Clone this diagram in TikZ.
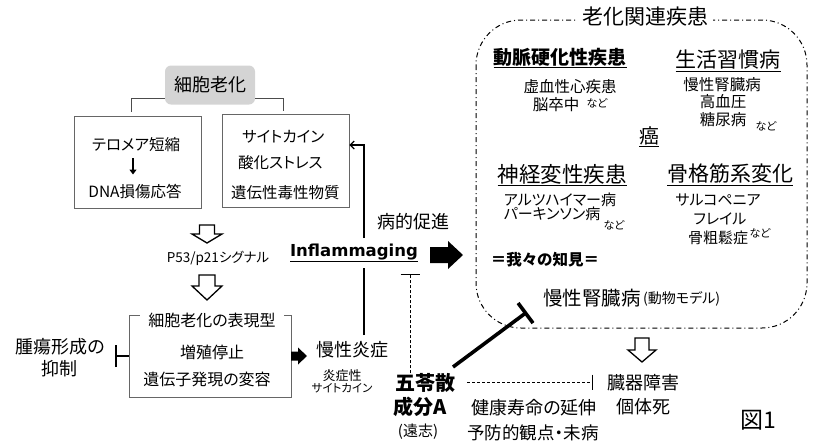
\documentclass[tikz,border=0pt]{standalone}
\usepackage{fontspec}
\setmainfont{Noto Sans CJK JP}[RawFeature=+palt]
\newfontfamily\infont{DejaVu Sans}
\usetikzlibrary{arrows.meta}
\newcommand\fsz[1]{\fontsize{#1}{#1}\selectfont}
\newcommand\harrow[6]{% x, top, headstart, tip, shafthalf, headhalf
  \draw[line width=1.3pt, fill=white, line join=miter]
    (#1-#5,#2) -- (#1+#5,#2) -- (#1+#5,#3) -- (#1+#6,#3) -- (#1,#4)
    -- (#1-#6,#3) -- (#1-#5,#3) -- cycle;}
\newcommand\barrow[6]{% x1, xhead, xtip, y, shafthalf, headhalf
  \fill (#1,#4-#5) -- (#2,#4-#5) -- (#2,#4-#6) -- (#3,#4) -- (#2,#4+#6)
    -- (#2,#4+#5) -- (#1,#4+#5) -- cycle;}
\begin{document}
\begin{tikzpicture}[x=1pt,y=-1pt,
  every node/.style={inner sep=0pt, text=black},
  box/.style={draw=black!60, line width=0.8pt},
  conn/.style={line width=0.9pt, draw=black!70},
  dashdot/.style={line width=1pt, dash pattern=on 5pt off 3pt on 1pt off 3pt}]
\useasboundingbox (0,0) rectangle (815,445);

% --- left part ---
\node[fill=black!17, rounded corners=6pt, minimum width=90pt, minimum height=39pt] (saibou) at (210,85) {\fsz{18}細胞老化};
\node[box, minimum width=127pt, minimum height=92pt] (lbox) at (137.5,162) {};
\node[box, minimum width=127pt, minimum height=93pt] (rbox) at (285.5,160.5) {};
\draw[conn, shorten >=4pt] ([yshift=-13pt]saibou.west) -| ([xshift=-6pt]lbox.north);
\draw[conn, shorten >=3pt] ([yshift=-13pt]saibou.east) -| ([xshift=-2pt]rbox.north);

\node (telo) at (136,145) {\fsz{15.5}テロメア短縮};
\node (dna) at (135,192) {\fsz{15.5}DNA損傷応答};
\draw[line width=1.6pt, -{Triangle[length=5pt,width=7pt]}, shorten <=6pt, shorten >=10pt] (telo.south -| 133,0) -- (dna.north -| 133,0);

\node[anchor=west] (cyto) at (242,137) {\fsz{15.5}サイトカイン};
\node[anchor=west] (sanka) at (238,163) {\fsz{15.5}酸化ストレス};
\node[anchor=west] (idoku) at (231,193) {\fsz{15.5}遺伝性毒性物質};

\harrow{207}{225}{234}{243}{7.5}{15}
\node (p53) at (218,258) {\fsz{13.5}P53/p21シグナル};
\harrow{207}{275}{286}{300}{8}{15}

\node[box, minimum width=162pt, minimum height=82pt] (pheno) at (210,356) {};
\node[fill=white, inner xsep=8pt, inner ysep=2pt] (phtitle) at (212,320) {\fsz{16}細胞老化の表現型};
\node (zoushoku) at (212,352) {\fsz{16}増殖停止};
\node (henyo) at (207,379) {\fsz{16}遺伝子発現の変容};

\node[align=center, font=\fsz{18}] (shuyou) at (60,358) {腫瘍形成の\\[4pt]抑制};
\coordinate (tbar1) at (115,356);
\draw[line width=1.6pt, -{Bar[width=22pt,line width=1.6pt]}] (pheno.west) -- (tbar1);

\barrow{291}{298}{307}{356}{4.5}{8.5}
\node (mansei) at (352,350) {\fsz{18}慢性炎症};
\node[align=center, font=\fsz{13}] (ensho) at (342,381) {炎症性\\[-1pt]\fsz{11.5}サイトカイン};

\node (infl) at (354,253) {\infont\bfseries\fsz{16.5}\underline{Inflammaging}};
\coordinate (vx) at (364,0);
\draw[line width=1.2pt] (vx |- 0,335) -- (vx |- 0,268);
\draw[line width=1.2pt, -{Straight Barb[length=4pt,width=8pt]}] (vx |- 0,238) |- ([yshift=15.5pt]rbox.east);

\node (byoteki) at (413,222) {\fsz{18}病的促進};
\barrow{430}{448}{463}{255}{8}{14}

% --- Goreisan ---
\node (gorei) at (425,383) {\fsz{20}\bfseries 五苓散};
\node (seibun) at (420,407) {\fsz{20}\bfseries 成分A};
\node (enshi) at (418,432) {\fsz{15}(遠志)};
\coordinate (tb2) at (410,274);
\draw[line width=1pt, dash pattern=on 3pt off 2pt, -{Bar[width=19pt,line width=1.4pt]}] (gorei.north -| tb2) -- (tb2);
\coordinate (thkS) at (453,367);
\coordinate (thkE) at (527,312);
\draw[line width=3.6pt, -{Bar[width=25pt,line width=3.6pt]}] (thkS) -- (thkE);

\node (zouki) at (643,383) {\fsz{18}臓器障害};
\node (kotai) at (643,407) {\fsz{18}個体死};
\coordinate (dS) at (467,382);
\coordinate (dE) at (593,382);
\draw[line width=1pt, dash pattern=on 3pt off 2pt, -{Bar[width=15pt,line width=1.4pt]}] (dS) -- (dE);
\node (kenko) at (534,408) {\fsz{18}健康寿命の延伸};
\node (yobo) at (533,433) {\fsz{17.5}予防的観点・未病};
\harrow{642}{338}{350}{362}{7}{14}
\node (zu1) at (758,420) {\fsz{23}図1};

% --- aging-related diseases box ---
\draw[dashdot, rounded corners=45pt] (476,20) rectangle (807,328);
\node[fill=white, inner xsep=5pt, inner ysep=2pt] (rouka) at (645,17) {\fsz{21}老化関連疾患};

\node (doumyaku) at (560,58) {\fsz{19}\bfseries\underline{動脈硬化性疾患}};
\node (seikatsu) at (728,61) {\fsz{21}\underline{生活習慣病}};
\node (kyoketsu) at (570,87) {\fsz{15.5}虚血性心疾患};
\node (nosot) at (556,105) {\fsz{15.5}脳卒中};
\node (nado1) at (597,103) {\fsz{11}など};
\node (ckd1) at (722,85) {\fsz{15.5}慢性腎臓病};
\node (kouketsu) at (723,102) {\fsz{15.5}高血圧};
\node (tounyo) at (723,120) {\fsz{15.5}糖尿病};
\node (nado2) at (766,126) {\fsz{11}など};
\node (gan) at (649,137) {\fsz{20}\underline{癌}};

\node (shinkei) at (562,175) {\fsz{21.5}\underline{神経変性疾患}};
\node (kokkaku) at (730,175) {\fsz{21}\underline{骨格筋系変化}};
\node (alz) at (560,200) {\fsz{15}アルツハイマー病};
\node (park) at (552,214) {\fsz{15}パーキンソン病};
\node (nado3) at (614,225) {\fsz{11}など};
\node (sarco) at (718,200) {\fsz{15}サルコペニア};
\node (frail) at (720,219) {\fsz{15}フレイル};
\node (kotsu) at (718,238) {\fsz{15}骨粗鬆症};
\node (nado4) at (760,233) {\fsz{11}など};
\node (wareware) at (545,260) {\fsz{15.5}\bfseries ＝我々の知見＝};
\node (ckd2) at (592,298) {\fsz{19.5}慢性腎臓病};
\node[anchor=west] (model) at (643,299) {\fsz{14}(動物モデル)};
\end{tikzpicture}
\end{document}
